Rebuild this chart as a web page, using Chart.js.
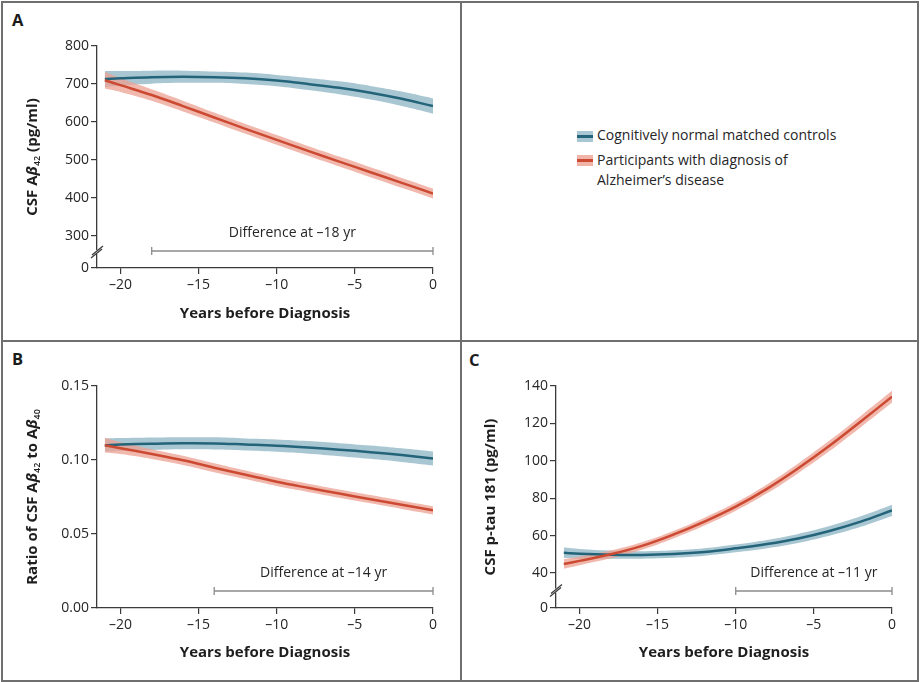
<!DOCTYPE html>
<html lang="en">

<head>
    <meta charset="UTF-8">
    <title>CSF biomarkers before diagnosis</title>
    <script src="https://cdn.jsdelivr.net/npm/chart.js@4"></script>
    <style>
        body {
            margin: 0;
            background: #fff;
            font-family: "Open Sans", "Noto Sans", sans-serif;
            color: #262626;
        }

        #frame {
            position: absolute;
            left: 1px;
            top: 1px;
            width: 914px;
            height: 677px;
            border: 2px solid #6f6f6f;
        }

        .vline {
            position: absolute;
            left: 460px;
            top: 1px;
            width: 2px;
            height: 681px;
            background: #6f6f6f;
        }

        .hline {
            position: absolute;
            left: 1px;
            top: 340px;
            width: 918px;
            height: 2px;
            background: #6f6f6f;
        }

        .letter {
            position: absolute;
            font-weight: 700;
            font-size: 16.5px;
            line-height: 20px;
            color: #1a1a1a;
        }

        canvas {
            position: absolute;
        }

        .swatch {
            position: absolute;
            width: 16px;
            height: 11px;
        }

        .swatch div {
            position: absolute;
            left: 0;
            top: 4px;
            width: 16px;
            height: 2.5px;
        }

        .legtext {
            position: absolute;
            left: 597px;
            font-size: 14px;
            line-height: 20px;
            white-space: nowrap;
        }
    </style>
</head>

<body>

    <div id="frame"></div>
    <div class="vline"></div>
    <div class="hline"></div>

    <div class="letter" style="left:12px; top:10px;">A</div>
    <div class="letter" style="left:12px; top:349px;">B</div>
    <div class="letter" style="left:469px; top:350px;">C</div>

    <div class="swatch" style="left:577px; top:131px; background:#a9c7d2;"><div style="background:#23647a;"></div></div>
    <div class="legtext" style="top:125px;">Cognitively normal matched controls</div>
    <div class="swatch" style="left:577px; top:155px; background:#f0b5a8;"><div style="background:#cc4a32;"></div></div>
    <div class="legtext" style="top:150px;">Participants with diagnosis of<br>Alzheimer’s disease</div>

    <canvas id="chartA" width="457" height="337" style="left:3px; top:3px;"></canvas>
    <canvas id="chartB" width="457" height="337" style="left:3px; top:342px;"></canvas>
    <canvas id="chartC" width="455" height="337" style="left:462px; top:342px;"></canvas>

</body>

</html>

<script>
    // years before diagnosis, shared by all three panels
    const years = [-21, -20, -18, -16, -14, -12, -10, -8, -6, -4, -2, 0];
    const xTicks = [-20, -15, -10, -5, 0];

    // A: CSF Abeta42 (pg/ml)
    const ctrlA = [713, 715, 718, 719, 718, 715, 709, 700, 690, 677, 661, 642];
    const ctrlAHigh = [734, 734, 735, 735, 733, 730, 724, 716, 707, 695, 680, 662];
    const ctrlALow = [692, 696, 701, 703, 703, 700, 694, 684, 673, 659, 642, 622];
    const adA = [710, 697, 671, 642, 612, 582, 553, 524, 496, 468, 440, 412];
    const adAHigh = [732, 715, 686, 656, 625, 595, 566, 537, 509, 481, 453, 425];
    const adALow = [688, 679, 656, 628, 599, 569, 540, 511, 483, 455, 427, 399];
    const yTicksA = [0, 300, 400, 500, 600, 700, 800];

    // B: ratio Abeta42 / Abeta40
    const ctrlB = [0.1100, 0.1105, 0.1110, 0.1113, 0.1112, 0.1105, 0.1097, 0.1085, 0.1070, 0.1053, 0.1033, 0.1010];
    const ctrlBHigh = [0.1145, 0.1148, 0.1152, 0.1154, 0.1153, 0.1146, 0.1139, 0.1128, 0.1114, 0.1098, 0.1079, 0.1057];
    const ctrlBLow = [0.1055, 0.1062, 0.1068, 0.1072, 0.1071, 0.1064, 0.1055, 0.1042, 0.1026, 0.1008, 0.0987, 0.0963];
    const adB = [0.1100, 0.1080, 0.1040, 0.0998, 0.0948, 0.0900, 0.0853, 0.0812, 0.0773, 0.0735, 0.0697, 0.0660];
    const adBHigh = [0.1150, 0.1120, 0.1073, 0.1029, 0.0978, 0.0929, 0.0882, 0.0840, 0.0801, 0.0763, 0.0725, 0.0688];
    const adBLow = [0.1050, 0.1040, 0.1007, 0.0967, 0.0918, 0.0871, 0.0824, 0.0784, 0.0745, 0.0707, 0.0669, 0.0632];
    const yTicksB = [0, 0.05, 0.10, 0.15];

    // C: CSF p-tau 181 (pg/ml)
    const ctrlC = [50.8, 50.3, 49.8, 49.7, 50.2, 51.3, 53.2, 55.5, 58.5, 62.5, 67.5, 73.5];
    const ctrlCHigh = [53.6, 52.9, 52.0, 51.7, 52.2, 53.3, 55.3, 57.7, 60.9, 65.1, 70.3, 76.5];
    const ctrlCLow = [48.0, 47.7, 47.6, 47.7, 48.2, 49.3, 51.1, 53.3, 56.1, 59.9, 64.7, 70.5];
    const adC = [44.8, 46.5, 50.0, 54.5, 60.5, 67.5, 75.5, 85.0, 96.0, 108.0, 121.0, 134.3];
    const adCHigh = [47.3, 48.8, 52.1, 56.5, 62.5, 69.6, 77.7, 87.4, 98.6, 110.8, 124.0, 137.4];
    const adCLow = [42.3, 44.2, 47.9, 52.5, 58.5, 65.4, 73.3, 82.6, 93.4, 105.2, 118.0, 131.2];
    const yTicksC = [0, 40, 60, 80, 100, 120, 140];

    const BLUE = '#23647a', BLUE_BAND = '#a9c7d2';
    const RED = '#cc4a32', RED_BAND = 'rgba(236, 160, 145, 0.75)';
    const AXIS = '#3a3a3a';
    const FONT = '"Open Sans", "Noto Sans", sans-serif';

    function pts(values) {
        return years.map((x, i) => ({ x: x, y: values[i] }));
    }

    function enDash(v) {
        return v < 0 ? '\u2013' + Math.abs(v) : String(v);
    }

    // rotated y title with italic beta and subscripts
    const yTitlePlugin = {
        id: 'yTitle',
        afterDraw(chart, args, opts) {
            const ctx = chart.ctx;
            const area = chart.chartArea;
            const fontOf = p => (p.it ? 'italic ' : '') + (p.sub ? '600 9px ' : '700 15px ') + FONT;
            ctx.save();
            ctx.translate(opts.x, (area.top + area.bottom) / 2);
            ctx.rotate(-Math.PI / 2);
            ctx.fillStyle = '#1e1e1e';
            ctx.textBaseline = 'alphabetic';
            let total = 0;
            opts.parts.forEach(p => { ctx.font = fontOf(p); total += ctx.measureText(p.t).width; });
            let x = -total / 2;
            opts.parts.forEach(p => {
                ctx.font = fontOf(p);
                ctx.fillText(p.t, x, p.sub ? 8 : 5);
                x += ctx.measureText(p.t).width;
            });
            ctx.restore();
        }
    };

    // "Difference at ..." bracket above the x axis
    const bracketPlugin = {
        id: 'bracket',
        afterDatasetsDraw(chart, args, opts) {
            const ctx = chart.ctx;
            const xs = chart.scales.x;
            const area = chart.chartArea;
            const x1 = xs.getPixelForValue(opts.from);
            const x2 = xs.getPixelForValue(opts.to);
            const y = area.bottom - 17;
            ctx.save();
            ctx.strokeStyle = '#8c8c8c';
            ctx.lineWidth = 1.3;
            ctx.beginPath();
            ctx.moveTo(x1, y); ctx.lineTo(x2, y);
            ctx.moveTo(x1, y - 4); ctx.lineTo(x1, y + 4);
            ctx.moveTo(x2, y - 4); ctx.lineTo(x2, y + 4);
            ctx.stroke();
            ctx.fillStyle = '#262626';
            ctx.font = '14px ' + FONT;
            ctx.textAlign = 'center';
            ctx.textBaseline = 'middle';
            ctx.fillText(opts.label, (x1 + x2) / 2, area.bottom - 35);
            ctx.restore();
        }
    };

    // // marks on a y axis that does not start at zero
    const axisBreakPlugin = {
        id: 'axisBreak',
        afterDraw(chart, args, opts) {
            if (!opts.above) return;
            const ctx = chart.ctx;
            const ys = chart.scales.y;
            const x = chart.chartArea.left;
            const y = (ys.getPixelForValue(ys.min) + ys.getPixelForValue(opts.above)) / 2;
            ctx.save();
            ctx.fillStyle = '#fff';
            ctx.fillRect(x - 2, y - 2, 4, 4);
            ctx.strokeStyle = AXIS;
            ctx.lineWidth = 1.2;
            ctx.beginPath();
            ctx.moveTo(x - 6, y + 6); ctx.lineTo(x + 5, y - 3);
            ctx.moveTo(x - 5, y + 3); ctx.lineTo(x + 6, y - 6);
            ctx.stroke();
            ctx.restore();
        }
    };

    function makeChart(id, p) {
        const datasets = [
            { data: pts(p.ctrlHigh), borderColor: 'transparent', borderWidth: 0, fill: false, order: 4 },
            { data: pts(p.ctrlLow), borderColor: 'transparent', borderWidth: 0, fill: '-1', backgroundColor: BLUE_BAND, order: 4 },
            { data: pts(p.adHigh), borderColor: 'transparent', borderWidth: 0, fill: false, order: 3 },
            { data: pts(p.adLow), borderColor: 'transparent', borderWidth: 0, fill: '-1', backgroundColor: RED_BAND, order: 3 },
            { data: pts(p.ctrl), borderColor: BLUE, borderWidth: 2.5, fill: false, order: 2 },
            { data: pts(p.ad), borderColor: RED, borderWidth: 2.5, fill: false, order: 1 }
        ];

        return new Chart(document.getElementById(id), {
            type: 'line',
            data: { datasets: datasets },
            plugins: [yTitlePlugin, bracketPlugin, axisBreakPlugin],
            options: {
                responsive: false,
                animation: false,
                layout: { padding: { left: 0, right: p.padRight, top: p.padTop, bottom: 0 } },
                elements: {
                    point: { radius: 0 },
                    line: { tension: 0.4 }
                },
                plugins: {
                    legend: { display: false },
                    tooltip: { enabled: false },
                    yTitle: { x: p.titleX, parts: p.title },
                    bracket: { from: p.diffFrom, to: 0, label: p.diffLabel },
                    axisBreak: { above: p.breakAbove }
                },
                scales: {
                    x: {
                        type: 'linear',
                        min: -21.5,
                        max: 0,
                        bounds: 'data',
                        afterBuildTicks: s => { s.ticks = xTicks.map(v => ({ value: v })); },
                        afterFit: s => { s.height = p.xHeight; },
                        grid: { drawOnChartArea: false, drawTicks: true, tickLength: 6, color: AXIS, lineWidth: 1.2 },
                        border: { display: true, color: AXIS, width: 1.3 },
                        ticks: {
                            color: '#262626',
                            font: { family: FONT, size: 14 },
                            padding: 3,
                            maxRotation: 0,
                            callback: v => enDash(v)
                        },
                        title: {
                            display: true,
                            text: 'Years before Diagnosis',
                            color: '#1e1e1e',
                            font: { family: FONT, size: 15, weight: '700' },
                            padding: { top: 0, bottom: 17 }
                        }
                    },
                    y: {
                        type: 'linear',
                        min: p.yMin,
                        max: p.yMax,
                        bounds: 'data',
                        afterBuildTicks: s => { s.ticks = p.yTicks.map(v => ({ value: v === 0 ? s.min : v })); },
                        afterFit: s => { s.width = 94; },
                        grid: { drawOnChartArea: false, drawTicks: true, tickLength: 6, color: AXIS, lineWidth: 1.2 },
                        border: { display: true, color: AXIS, width: 1.3 },
                        ticks: {
                            color: '#262626',
                            font: { family: FONT, size: 14 },
                            padding: 2,
                            callback: (v, i) => p.yFormat(p.yTicks[i])
                        }
                    }
                }
            }
        });
    }

    makeChart('chartA', {
        ctrl: ctrlA, ctrlHigh: ctrlAHigh, ctrlLow: ctrlALow,
        ad: adA, adHigh: adAHigh, adLow: adALow,
        yTicks: yTicksA, yMin: 216, yMax: 800, breakAbove: 300,
        yFormat: v => String(v),
        diffFrom: -18, diffLabel: 'Difference at \u201318 yr',
        padTop: 43, padRight: 27, xHeight: 72, titleX: 29,
        title: [{ t: 'CSF A' }, { t: '\u03B2', it: true }, { t: '42', sub: true }, { t: ' (pg/ml)' }]
    });

    makeChart('chartB', {
        ctrl: ctrlB, ctrlHigh: ctrlBHigh, ctrlLow: ctrlBLow,
        ad: adB, adHigh: adBHigh, adLow: adBLow,
        yTicks: yTicksB, yMin: 0, yMax: 0.15, breakAbove: null,
        yFormat: v => v.toFixed(2),
        diffFrom: -14, diffLabel: 'Difference at \u201314 yr',
        padTop: 44, padRight: 27, xHeight: 71, titleX: 29,
        title: [{ t: 'Ratio of CSF A' }, { t: '\u03B2', it: true }, { t: '42', sub: true }, { t: ' to A' }, { t: '\u03B2', it: true }, { t: '40', sub: true }]
    });

    makeChart('chartC', {
        ctrl: ctrlC, ctrlHigh: ctrlCHigh, ctrlLow: ctrlCLow,
        ad: adC, adHigh: adCHigh, adLow: adCLow,
        yTicks: yTicksC, yMin: 21.3, yMax: 140, breakAbove: 40,
        yFormat: v => String(v),
        diffFrom: -10, diffLabel: 'Difference at \u201311 yr',
        padTop: 44, padRight: 25, xHeight: 71, titleX: 28,
        title: [{ t: 'CSF p-tau 181 (pg/ml)' }]
    });
</script>
